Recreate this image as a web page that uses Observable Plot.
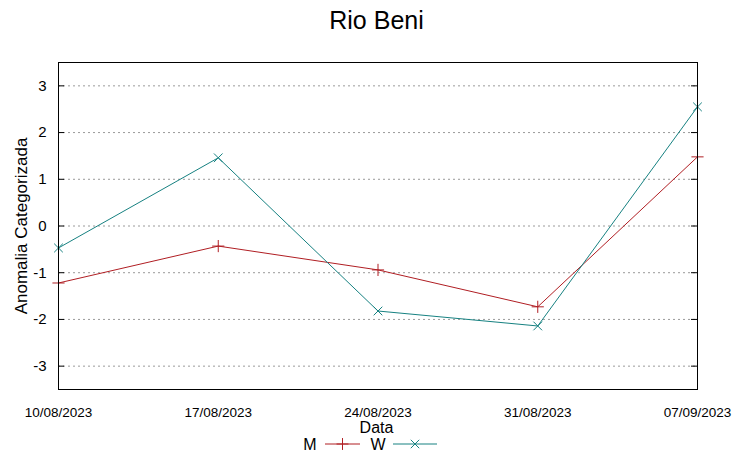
<!DOCTYPE html>
<html>
<head>
<meta charset="utf-8">
<script src="https://cdn.jsdelivr.net/npm/d3@7"></script>
<script src="https://cdn.jsdelivr.net/npm/@observablehq/plot@0.6"></script>
<style>
  body { margin: 0; background: #fff; font-family: "Liberation Sans", Arial, sans-serif; }
  #wrap { position: relative; width: 753px; height: 459px; }
  .ov { position: absolute; color: #000; white-space: nowrap; z-index: 2; }
</style>
</head>
<body>
<div id="wrap">
  <div class="ov" id="title" style="left:0;width:753px;top:6px;text-align:center;font-size:25px;">Rio Beni</div>
  <div class="ov" id="ylab" style="left:22px;top:226px;font-size:17px;transform:translate(-50%,-50%) rotate(-90deg);">Anomalia Categorizada</div>
  <div class="ov" id="xlab" style="left:0;width:753px;top:419px;text-align:center;font-size:16px;line-height:18px;">Data</div>
  <div id="legend" class="ov" style="left:300px;top:434px;"></div>
</div>
<script>
const dates = ["2023-08-10", "2023-08-17", "2023-08-24", "2023-08-31", "2023-09-07"];
const seriesNames = ["M", "W"];
const valuesM = [-1.22, -0.43, -0.94, -1.73, 1.48];
const valuesW = [-0.47, 1.46, -1.82, -2.14, 2.55];
const yTicks = [-3, -2, -1, 0, 1, 2, 3];
const colors = ["#b01e23", "#168181"];
const symbols = ["plus", "times"];

const parse = d3.utcParse("%Y-%m-%d");
const dateVals = dates.map(parse);
const data = [];
[valuesM, valuesW].forEach((vals, i) => {
  vals.forEach((v, j) => data.push({series: seriesNames[i], date: dateVals[j], value: v}));
});

const W = 753, H = 459;
const mL = 58, mR = 56, mT = 62, mB = 70;
const plotW = W - mL - mR;
const fmt = d3.utcFormat("%d/%m/%Y");

const chart = Plot.plot({
  width: W, height: H,
  marginLeft: mL, marginRight: mR, marginTop: mT, marginBottom: mB,
  style: {fontFamily: "Liberation Sans, Arial, sans-serif", background: "transparent", color: "#000"},
  x: {type: "utc", domain: [dateVals[0], dateVals[dateVals.length - 1]]},
  y: {domain: [-3.5, 3.5]},
  color: {domain: seriesNames, range: colors},
  symbol: {domain: seriesNames, range: symbols},
  marks: [
    Plot.ruleY(yTicks, {stroke: "#9a9a9a", strokeWidth: 1, strokeDasharray: "2,3"}),
    Plot.tickY(yTicks, {stroke: "#000", insetRight: plotW - 6}),
    Plot.tickY(yTicks, {stroke: "#000", insetLeft: plotW - 6}),
    Plot.axisY({ticks: yTicks, tickSize: 0, tickPadding: 12, fontSize: 15, label: null, tickFormat: d => d < 0 ? "-" + Math.abs(d) : String(d)}),
    Plot.axisX({ticks: dateVals, tickSize: 0, tickPadding: 18, fontSize: 13.5, label: null, tickFormat: fmt}),
    Plot.line(data, {x: "date", y: "value", z: "series", stroke: "series", strokeWidth: 1}),
    Plot.dot(data, {x: "date", y: "value", symbol: "series", stroke: "series", r: 4, strokeWidth: 1}),
    Plot.frame({stroke: "#000", strokeWidth: 1})
  ]
});
chart.style.position = "absolute";
chart.style.left = "0";
chart.style.top = "0";
chart.style.zIndex = "1";
document.getElementById("wrap").appendChild(chart);

// legend
const leg = d3.select("#legend").append("svg").attr("width", 160).attr("height", 22);
const items = [{name: seriesNames[0], tx: 10, x1: 25, x2: 60}, {name: seriesNames[1], tx: 78, x1: 93, x2: 137}];
items.forEach((it, i) => {
  leg.append("text").attr("x", it.tx).attr("y", 16).attr("text-anchor", "middle")
    .attr("font-size", 16).attr("font-family", "Liberation Sans, Arial, sans-serif").text(it.name);
  leg.append("line").attr("x1", it.x1).attr("x2", it.x2).attr("y1", 10).attr("y2", 10)
    .attr("stroke", colors[i]).attr("stroke-width", 1);
  const sym = d3.symbol(i === 0 ? d3.symbolPlus : d3.symbolTimes, 48);
  leg.append("path").attr("d", sym()).attr("transform", `translate(${(it.x1 + it.x2) / 2},10)`)
    .attr("fill", "none").attr("stroke", colors[i]).attr("stroke-width", 1);
});
</script>
</body>
</html>
